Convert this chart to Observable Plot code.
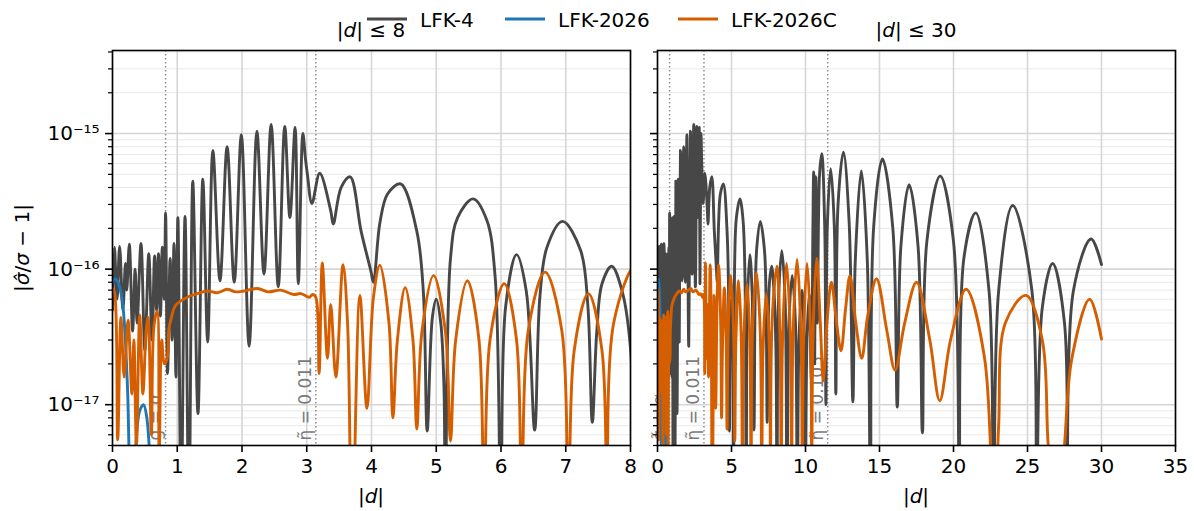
<!DOCTYPE html>
<html><head><meta charset="utf-8">
<script src="https://cdn.jsdelivr.net/npm/d3@7"></script>
<script src="https://cdn.jsdelivr.net/npm/@observablehq/plot@0.6"></script>
<style>
body{margin:0;background:#fff;}
#fig{position:relative;width:1194px;height:511px;overflow:hidden;font-family:"DejaVu Sans",sans-serif;background:#fff;}
#fig svg{position:absolute;top:0;}
</style></head><body><div id="fig"></div>
<script>
// ---- data: [ |d| , |sigma_hat/sigma - 1| ] ----
const lfk4 = [[0.00,5e-17],[0.03,1.45e-16],[0.07,6e-17],[0.11,1.47e-16],[0.16,5e-17],[0.20,1.1e-16],[0.22,7e-17],[0.26,1.53e-16],[0.31,3.5e-17],[0.35,1.0e-16],[0.38,4e-17],[0.44,1.55e-16],[0.50,2.5e-17],[0.56,1.3e-16],[0.61,3e-17],[0.65,1.25e-16],[0.68,5e-17],[0.71,1.3e-16],[0.74,4.5e-17],[0.77,1.45e-16],[0.80,6e-17],[0.82,2.6e-16],[0.85,1.7e-17],[0.89,1.2e-16],[0.92,3e-17],[0.95,1.55e-16],[0.98,1.6e-17],[1.01,2.4e-16],[1.06,1.5e-18],[1.12,2.45e-16],[1.18,1.5e-18],[1.24,4.45e-16],[1.32,8.6e-18],[1.395,4.6e-16],[1.47,2.9e-17],[1.55,7.5e-16],[1.66,8.2e-17],[1.77,8e-16],[1.88,8e-17],[1.99,9.8e-16],[2.11,2.7e-17],[2.23,1.04e-15],[2.34,9.2e-17],[2.45,1.17e-15],[2.56,7.4e-17],[2.66,1.13e-15],[2.74,2.4e-16],[2.82,1.11e-15],[2.87,7.8e-17],[2.94,1.0e-15],[2.98,6.5e-16],[3.01,5.0e-16],[3.08,3.05e-16],[3.20,5.1e-16],[3.37,2.7e-16],[3.41,2.15e-16],[3.53,4e-16],[3.67,4.8e-16],[3.84,1.9e-16],[3.99,9.7e-17],[4.03,8e-17],[4.13,2.2e-16],[4.25,3.6e-16],[4.45,4.25e-16],[4.70,1.9e-16],[4.80,6.9e-17],[4.86,6.4e-18],[4.94,4.4e-17],[5.00,6e-17],[5.07,4e-17],[5.12,1.3e-17],[5.14,1e-18],[5.22,1.2e-16],[5.33,2.4e-16],[5.57,3.3e-16],[5.78,2.3e-16],[5.91,8.7e-17],[6.00,1e-18],[6.07,5.2e-17],[6.24,1.28e-16],[6.39,6.9e-17],[6.52,6.5e-18],[6.60,6.2e-17],[6.71,1.45e-16],[6.95,2.25e-16],[7.23,1.37e-16],[7.34,5.5e-17],[7.41,7.4e-18],[7.48,3.5e-17],[7.56,7.8e-17],[7.71,1.05e-16],[7.87,6.9e-17],[8.00,2.6e-17],[8.08,1e-18],[8.18,6e-17],[8.40,1.37e-16],[8.62,6e-17],[8.75,1e-18],[8.88,4e-17],[9.10,9e-17],[9.32,4e-17],[9.45,1e-18],[9.56,3e-17],[9.75,7e-17],[9.92,3e-17],[10.00,3e-18],[10.10,3e-17],[10.25,6.5e-17],[10.40,1.5e-17],[10.50,2e-16],[10.55,5.2e-16],[10.62,2e-17],[10.70,4.8e-16],[10.80,4e-17],[10.95,5e-16],[11.10,7.1e-16],[11.30,2e-16],[11.38,1e-17],[11.47,2e-16],[11.70,5.5e-16],[11.95,2e-16],[12.05,1.2e-17],[12.20,3e-16],[12.56,7.3e-16],[12.95,2.2e-16],[13.2,1.05e-17],[13.37,1.2e-16],[13.77,5.3e-16],[14.17,1.2e-16],[14.4,1e-18],[14.6,2e-16],[15.2,6.5e-16],[15.9,2e-16],[16.2,9.6e-18],[16.45,1.5e-16],[17.0,4.2e-16],[17.6,1.5e-16],[17.9,6.2e-18],[18.2,1.6e-16],[19.1,4.85e-16],[20.0,1.6e-16],[20.4,1e-18],[20.7,1.2e-16],[21.5,2.6e-16],[22.4,6.9e-17],[22.7,1e-18],[23.05,6.9e-17],[24.0,2.95e-16],[25.3,6.9e-17],[25.6,1e-18],[26.0,5.2e-17],[26.7,1.1e-16],[27.5,4e-17],[27.7,1e-18],[28.1,6.9e-17],[29.3,1.67e-16],[30.0,1.08e-16]];

const lfk2026 = [[0.00,8e-17],[0.04,8.5e-17],[0.08,8.1e-17],[0.15,5.9e-17],[0.23,1.4e-17],[0.29,1e-18],[0.36,5e-18],[0.42,9e-18],[0.48,1e-17],[0.53,8e-18],[0.59,3e-18],[0.63,1e-18]];

const lfk2026c = [[0.00,7.2e-17],[0.03,6.8e-17],[0.08,5.5e-18],[0.13,4.4e-17],[0.18,1.6e-17],[0.24,4.2e-17],[0.30,1.2e-17],[0.33,3e-17],[0.37,5e-18],[0.42,4.6e-17],[0.47,1.2e-17],[0.52,3.5e-17],[0.55,4.4e-17],[0.60,6e-18],[0.64,3.8e-17],[0.69,4.9e-17],[0.72,4e-18],[0.76,3e-17],[0.80,2e-17],[0.845,2.2e-17],[0.87,3.6e-17],[0.90,4.2e-17],[0.975,5.4e-17],[1.155,6.2e-17],[1.31,6.6e-17],[1.465,6.9e-17],[1.62,6.7e-17],[1.77,7.1e-17],[1.90,6.8e-17],[2.03,6.9e-17],[2.24,7.2e-17],[2.40,6.8e-17],[2.60,7e-17],[2.80,6.5e-17],[2.91,6.6e-17],[3.04,6.2e-17],[3.09,6.5e-17],[3.14,6.2e-17],[3.19,1.7e-17],[3.24,1.11e-16],[3.32,2.2e-17],[3.37,5.5e-17],[3.45,1.6e-17],[3.56,1.08e-16],[3.63,4e-17],[3.70,1e-18],[3.82,6.4e-17],[3.93,9.4e-18],[4.03,6.2e-17],[4.13,1.07e-16],[4.27,4e-17],[4.33,8e-18],[4.40,3e-17],[4.52,7.3e-17],[4.64,3e-17],[4.70,6.6e-18],[4.78,3.5e-17],[4.96,9e-17],[5.14,3.5e-17],[5.22,5.4e-18],[5.30,3e-17],[5.48,8.2e-17],[5.66,3e-17],[5.74,1e-18],[5.83,3e-17],[6.05,7.8e-17],[6.24,3e-17],[6.32,1e-18],[6.42,3.5e-17],[6.68,9.5e-17],[6.94,3.5e-17],[7.04,1e-18],[7.13,2.5e-17],[7.35,6.6e-17],[7.56,2.5e-17],[7.64,1e-18],[7.74,4e-17],[8.07,1.05e-16],[8.28,3e-17],[8.36,1e-18],[8.45,3e-17],[8.72,1.1e-16],[8.98,3e-17],[9.06,1e-18],[9.15,3e-17],[9.43,1.18e-16],[9.70,3e-17],[9.78,1e-18],[9.87,3e-17],[10.10,1.1e-16],[10.35,3e-17],[10.42,1e-18],[10.50,3e-17],[10.75,1.2e-16],[11.0,4e-17],[11.2,1.5e-17],[11.45,4e-17],[11.75,8e-17],[12.1,4e-17],[12.4,2.5e-17],[12.7,5e-17],[13.0,8.9e-17],[13.4,4e-17],[13.8,2.2e-17],[14.2,4.5e-17],[14.8,8.5e-17],[15.5,3.5e-17],[16.05,1.8e-17],[16.7,4e-17],[17.5,8e-17],[18.4,3e-17],[19.07,1.07e-17],[19.8,3e-17],[20.85,7.1e-17],[22.1,2.2e-17],[22.75,1e-18],[23.05,7e-18],[23.5,4e-17],[24.9,6.4e-17],[26.0,3e-17],[26.4,5e-18],[27.0,1e-18],[27.5,5e-18],[28.0,2.2e-17],[29.2,6e-17],[30.0,3.05e-17]];

const seriesNames = ["LFK-4", "LFK-2026", "LFK-2026C"];
const seriesColors = ["#474747", "#1f77b4", "#d55e00"];
const etaLines = [0.82, 3.14, 11.5];
const etaLabels = ["g̃ = α", "η̃ = 0.011", "η̃ = 0.105"];
const xTicksLeft = [0, 1, 2, 3, 4, 5, 6, 7, 8];
const xTicksRight = [0, 5, 10, 15, 20, 25, 30, 35];
const yMajor = [1e-17, 1e-16, 1e-15];
const yMajorLabels = ["10⁻¹⁷", "10⁻¹⁶", "10⁻¹⁵"];
const yMinor = [5e-18,6e-18,7e-18,8e-18,9e-18,2e-17,3e-17,4e-17,5e-17,6e-17,7e-17,8e-17,9e-17,2e-16,3e-16,4e-16,5e-16,6e-16,7e-16,8e-16,9e-16,2e-15,3e-15,4e-15];
const yDomain = [5e-18, 4.1e-15];

const series = [lfk4, lfk2026, lfk2026c];

function panel({left, width, marginLeft, marginRight, xDomain, xTicks, yLabels}) {
  const lines = etaLines.map((x, i) => ({x, label: etaLabels[i]})).filter(d => d.x >= xDomain[0] && d.x <= xDomain[1]);
  const svg = Plot.plot({
    width, height: 511, marginTop: 50, marginBottom: 66, marginLeft, marginRight,
    style: {fontFamily: "DejaVu Sans", fontSize: "20px", background: "transparent", color: "black", overflow: "visible"},
    x: {domain: xDomain, label: null},
    y: {type: "log", domain: yDomain, label: null},
    marks: [
      Plot.gridY({ticks: yMinor, stroke: "#e9e9e9", strokeOpacity: 1, strokeWidth: 1}),
      Plot.gridY({ticks: yMajor, stroke: "#d6d6d6", strokeOpacity: 1, strokeWidth: 1.6}),
      Plot.gridX({ticks: xTicks, stroke: "#d6d6d6", strokeOpacity: 1, strokeWidth: 1.6}),
      Plot.ruleX(lines, {x: "x", stroke: "#8c8c8c", strokeWidth: 1.5, strokeDasharray: "1.5,2.5"}),
      Plot.text(lines, {x: "x", text: "label", frameAnchor: "bottom", rotate: -90, textAnchor: "start", lineAnchor: "middle", dx: -10, dy: -5, fill: "#7a7a7a", fontSize: 17}),
      ...series.map((s, i) => Plot.line(s, {x: d => d[0], y: d => d[1], stroke: seriesColors[i], strokeWidth: 2.9, curve: "catmull-rom", clip: true})),
      Plot.frame({stroke: "black", strokeWidth: 1.6}),
      Plot.axisX({ticks: xTicks, tickSize: 7, tickPadding: 6, strokeWidth: 1.6, fontSize: 20, label: null, tickFormat: d => String(d)}),
      Plot.axisY({ticks: yMajor, tickSize: 7, tickPadding: 6, strokeWidth: 1.6, fontSize: 20, label: null, tickFormat: yLabels ? (d => yMajorLabels[yMajor.indexOf(d)]) : (() => "")}),
      Plot.axisY({ticks: yMinor, tickSize: 4, strokeWidth: 1.2, label: null, tickFormat: () => ""})
    ]
  });
  svg.style.left = left + "px";
  return svg;
}

const fig = document.getElementById("fig");
fig.appendChild(panel({left: 0, width: 640, marginLeft: 112, marginRight: 10, xDomain: [0, 8], xTicks: xTicksLeft, yLabels: true}));
fig.appendChild(panel({left: 640, width: 554, marginLeft: 17, marginRight: 19, xDomain: [0, 35], xTicks: xTicksRight, yLabels: false}));

// overlay: titles, legend, axis labels
const ov = d3.select(fig).append("svg").attr("width", 1194).attr("height", 511)
  .style("left", "0px").style("font-family", "DejaVu Sans").style("font-size", "20px");
const titles = [{x: 371, t: "8"}, {x: 916, t: "30"}];
titles.forEach(tt => {
  const t = ov.append("text").attr("x", tt.x).attr("y", 37).attr("text-anchor", "middle");
  t.append("tspan").text("|");
  t.append("tspan").attr("font-style", "italic").text("d");
  t.append("tspan").text("| ≤ " + tt.t);
});
[371, 916].forEach(x => {
  const t = ov.append("text").attr("x", x).attr("y", 503).attr("text-anchor", "middle");
  t.append("tspan").text("|");
  t.append("tspan").attr("font-style", "italic").text("d");
  t.append("tspan").text("|");
});
const yl = ov.append("text").attr("transform", "translate(29,248) rotate(-90)").attr("text-anchor", "middle");
yl.append("tspan").text("|");
yl.append("tspan").attr("font-style", "italic").text("σ̂");
yl.append("tspan").text("/");
yl.append("tspan").attr("font-style", "italic").text("σ");
yl.append("tspan").text(" − 1|");
const legendX = [367, 505, 678];
seriesNames.forEach((n, i) => {
  ov.append("line").attr("x1", legendX[i]).attr("x2", legendX[i] + 40).attr("y1", 19).attr("y2", 19)
    .attr("stroke", seriesColors[i]).attr("stroke-width", 3);
  ov.append("text").attr("x", legendX[i] + 53).attr("y", 26.5).text(n);
});
</script></body></html>
